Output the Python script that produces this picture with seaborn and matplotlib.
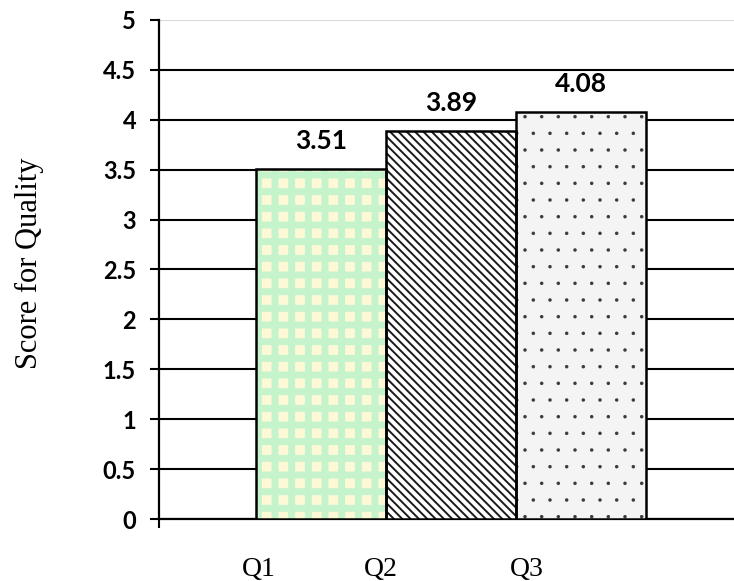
import matplotlib
matplotlib.use("Agg")
import matplotlib.pyplot as plt
import seaborn as sns
import pandas as pd
import numpy as np

# Data
quarters = ["Q1", "Q2", "Q3"]
scores = [3.51, 3.89, 4.08]
y_ticks = [0, 0.5, 1, 1.5, 2, 2.5, 3, 3.5, 4, 4.5, 5]
y_tick_labels = ["0", "0.5", "1", "1.5", "2", "2.5", "3", "3.5", "4", "4.5", "5"]
quarter_label_pos = [-0.477, 0.46, 1.58]
y_label = "Score for Quality"

sns.set_theme(style="white")
plt.rcParams["font.family"] = ["Lato", "DejaVu Sans"]

fig = plt.figure(figsize=(7.34, 5.81), dpi=100)
ax = fig.add_axes([0.2166, 0.1067, 0.7834, 0.8589])

df = pd.DataFrame({"quarter": quarters, "score": scores})
sns.barplot(data=df, x="quarter", y="score", width=1.0, errorbar=None,
            color="white", saturation=1, ax=ax, zorder=3)

# Fill styles: green/yellow checker, dense diagonal hatch, dotted grey
fills = [
    dict(face="#fdf9d6", hatch="+", hcolor="#c4f3cc", hlw=5.0),
    dict(face="white", hatch="\\\\\\\\", hcolor="#1a1a1a", hlw=1.4),
    dict(face="#f4f4f4", hatch=".", hcolor="#3a3a3a", hlw=0.1),
]
for patch, f in zip(ax.patches, fills):
    patch.set_facecolor(f["face"])
    patch.set_edgecolor(f["hcolor"])
    patch.set_linewidth(0)
    patch.set_hatch(f["hatch"])
    if hasattr(patch, "set_hatch_linewidth"):
        patch.set_hatch_linewidth(f["hlw"])

# Black outlines over the patterned bars
ax.bar(np.arange(len(scores)), scores, width=1.0, fill=False,
       edgecolor="black", linewidth=1.8, zorder=4)

# Value labels
for i, s in enumerate(scores):
    ax.annotate(f"{s:.2f}", xy=(i, s), xytext=(0, 14), textcoords="offset points",
                ha="center", va="baseline", fontsize=19, fontweight="bold",
                color="black", zorder=5)

ax.set_xlim(-1.246, 3.177)
ax.set_ylim(0, 5)
ax.set_yticks(y_ticks)
ax.set_yticklabels(y_tick_labels, fontsize=17, fontweight="bold", color="black")
ax.tick_params(axis="y", which="major", length=6.5, width=1.5, color="black",
               pad=10, left=True)

# Quarter labels below the axis
ax.set_xticks(quarter_label_pos)
ax.set_xticklabels(quarters, family=["Liberation Serif"], fontsize=20, color="black")
ax.tick_params(axis="x", which="major", length=0, pad=27)
ax.set_xticks([-1.246], minor=True)
ax.tick_params(axis="x", which="minor", length=6.5, width=1.5, color="black",
               bottom=True, direction="out")
ax.set_xlabel("")
ax.set_ylabel("")

# Horizontal grid
ax.set_axisbelow(True)
ax.grid(axis="y", color="black", linewidth=1.5)
for gl, yt in zip(ax.get_ygridlines(), y_ticks):
    if yt == 5:
        gl.set_color("#d9d9d9")

for side in ["top", "right"]:
    ax.spines[side].set_visible(False)
for side in ["left", "bottom"]:
    ax.spines[side].set_color("black")
    ax.spines[side].set_linewidth(1.6)

fig.text(29 / 734, 1 - 263 / 581, y_label, rotation=90, ha="center", va="center",
         family=["Liberation Serif"], fontsize=22, color="black")

fig.savefig("out.png", dpi=100)
